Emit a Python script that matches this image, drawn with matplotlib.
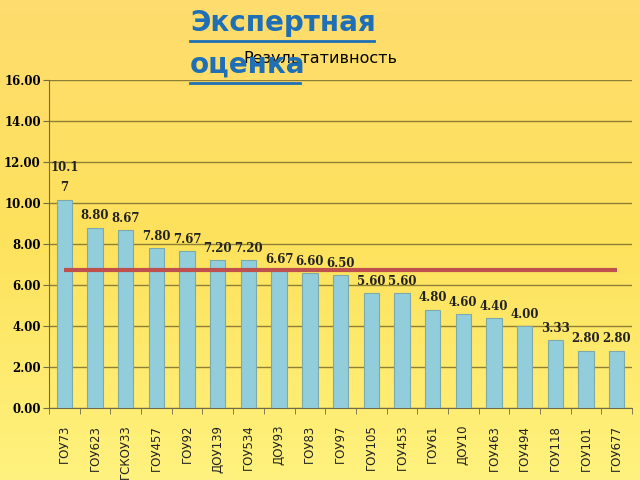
import matplotlib.pyplot as plt
import numpy as np
from matplotlib.colors import LinearSegmentedColormap

# data
schools = ['ГОУ73', 'ГОУ623', 'ГСКОУ33', 'ГОУ457', 'ГОУ92', 'ДОУ139', 'ГОУ534',
           'ДОУ93', 'ГОУ83', 'ГОУ97', 'ГОУ105', 'ГОУ453', 'ГОУ61', 'ДОУ10',
           'ГОУ463', 'ГОУ494', 'ГОУ118', 'ГОУ101', 'ГОУ677']
scores = [10.17, 8.80, 8.67, 7.80, 7.67, 7.20, 7.20, 6.67, 6.60, 6.50,
          5.60, 5.60, 4.80, 4.60, 4.40, 4.00, 3.33, 2.80, 2.80]
bar_labels = ['10.1\n7', '8.80', '8.67', '7.80', '7.67', '7.20', '7.20', '6.67',
              '6.60', '6.50', '5.60', '5.60', '4.80', '4.60', '4.40', '4.00',
              '3.33', '2.80', '2.80']
level = [6.73] * len(schools)

fig = plt.figure(figsize=(6.4, 4.8), dpi=100)

# yellow gradient background
bg = fig.add_axes([0, 0, 1, 1], zorder=-10)
cmap = LinearSegmentedColormap.from_list('bg', ['#FFDC6E', '#FDE25C', '#FFF27E'])
grad = np.linspace(0, 1, 256).reshape(-1, 1)
bg.imshow(grad, aspect='auto', cmap=cmap, extent=[0, 1, 0, 1], origin='upper')
bg.axis('off')

ax = fig.add_axes([0.0766, 0.15, 0.911, 0.6833])
ax.patch.set_alpha(0)
x = np.arange(len(schools))
ax.bar(x, scores, width=0.5, color='#92CDDC', edgecolor='#7FA9A8', linewidth=0.8, zorder=3)
ax.plot(x, level, color='#C0504D', linewidth=3, zorder=4, solid_capstyle='butt')

for xi, v, lab in zip(x, scores, bar_labels):
    ax.text(xi, v + 0.25, lab, ha='center', va='bottom', fontsize=8.5,
            family='DejaVu Serif', fontweight='bold', color='#222222', zorder=5,
            linespacing=1.7)

ax.set_xlim(-0.5, len(schools) - 0.5)
ax.set_ylim(0, 16)
ax.set_yticks(np.arange(0, 17, 2))
ax.set_yticklabels(['%.2f' % t for t in np.arange(0, 17, 2)],
                   family='DejaVu Serif', fontweight='bold', fontsize=8.5)
ax.yaxis.grid(True, color='#8F7F35', linewidth=1, zorder=0)
ax.set_xticks(x)
ax.set_xticklabels(schools, rotation=90, fontsize=8.5, color='#222222')
ax.set_xticks(np.arange(-0.5, len(schools), 1), minor=True)
ax.tick_params(axis='x', which='major', length=0, pad=12)
ax.tick_params(axis='x', which='minor', length=4, color='#6E6A4A')
ax.tick_params(axis='y', length=4, color='#6E6A4A', pad=2)
for s in ['top', 'right']:
    ax.spines[s].set_visible(False)
for s in ['left', 'bottom']:
    ax.spines[s].set_color('#6E6A4A')

fig.text(0.5, 0.879, 'Результативность', ha='center', va='center', fontsize=11.5,
         color='black')
fig.text(0.297, 0.952, 'Экспертная', ha='left', va='center', fontsize=20,
         fontweight='bold', color='#1E6FB5')
fig.text(0.297, 0.866, 'оценка', ha='left', va='center', fontsize=20,
         fontweight='bold', color='#1E6FB5')
# underlines
fig.add_artist(plt.Line2D([0.297, 0.584], [0.914, 0.914], color='#1E6FB5', linewidth=2))
fig.add_artist(plt.Line2D([0.297, 0.469], [0.828, 0.828], color='#1E6FB5', linewidth=2))

fig.savefig('out.png', dpi=100)
